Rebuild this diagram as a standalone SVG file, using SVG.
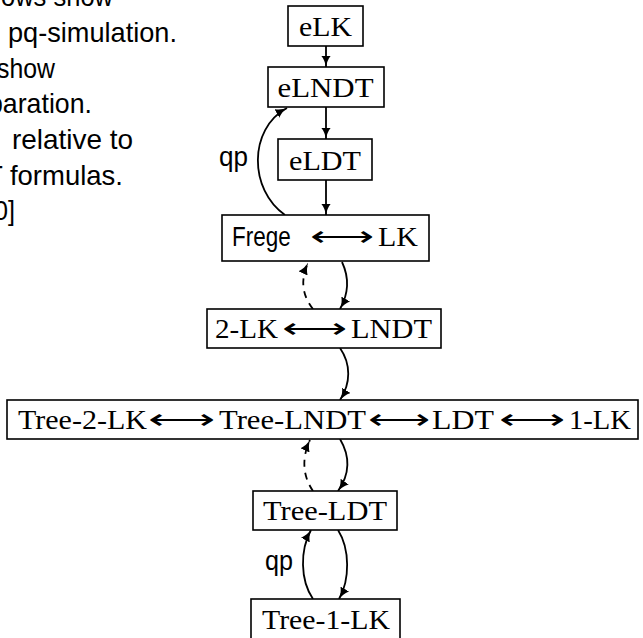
<svg xmlns="http://www.w3.org/2000/svg" width="643" height="638" viewBox="0 0 643 638">
<style>
.box{fill:#fff;stroke:#000;stroke-width:1.6}
.rm{font-family:"Liberation Serif","Times New Roman",serif;font-size:28px;fill:#000}
.ss{font-family:"Liberation Sans",Arial,sans-serif;font-size:28px;fill:#000}
.ar{font-family:"DejaVu Sans",sans-serif;font-weight:200;font-size:28px;fill:#000}
.c{fill:none;stroke:#000;stroke-width:1.8}
.d{stroke-dasharray:7 6}
</style>
<defs>
<marker id="ah" viewBox="0 0 12 10" markerWidth="12" markerHeight="10" refX="11.5" refY="5" orient="auto" markerUnits="userSpaceOnUse">
<path d="M0,0 C3,2.5 7,4.4 12,5 C7,5.6 3,7.5 0,10 Z" fill="#000"/>
</marker>
</defs>
<rect width="643" height="638" fill="#fff"/>
<g id="caption" class="ss">
<text x="1" y="6" textLength="112" lengthAdjust="spacingAndGlyphs">ows show</text>
<text x="8" y="42" textLength="169" lengthAdjust="spacingAndGlyphs">pq-simulation.</text>
<text x="-3" y="77.5" textLength="58" lengthAdjust="spacingAndGlyphs">show</text>
<text x="-12" y="113" textLength="104" lengthAdjust="spacingAndGlyphs">paration.</text>
<text x="12" y="149" textLength="121" lengthAdjust="spacingAndGlyphs">relative to</text>
<text x="-14" y="184.5" textLength="137" lengthAdjust="spacingAndGlyphs">T formulas.</text>
<text x="-6" y="220" textLength="21" lengthAdjust="spacingAndGlyphs">0]</text>
</g>
<g id="connectors">
<path class="c" d="M326,46 L326,67" marker-end="url(#ah)"/>
<path class="c" d="M326,107 L326,139" marker-end="url(#ah)"/>
<path class="c" d="M326,180 L326,215" marker-end="url(#ah)"/>
<path class="c" d="M285,215 C249,190 248,129 287,108" marker-end="url(#ah)"/>
<path class="c" d="M342,262 C349,277 349,293 340,309" marker-end="url(#ah)"/>
<path class="c d" d="M313,309 C301,294 301,278 308,263" marker-end="url(#ah)"/>
<path class="c" d="M340,348 C351,364 351,383 340,400" marker-end="url(#ah)"/>
<path class="c" d="M340,439 C350,456 350,474 338,491" marker-end="url(#ah)"/>
<path class="c d" d="M313,491 C302,475 302,457 310,440" marker-end="url(#ah)"/>
<path class="c" d="M338,530 C350,549 350,580 339,599" marker-end="url(#ah)"/>
<path class="c" d="M313,599 C300,580 300,550 311,530" marker-end="url(#ah)"/>
<text class="ss" x="219" y="166" textLength="29" lengthAdjust="spacingAndGlyphs">qp</text>
<text class="ss" x="265" y="570" textLength="28" lengthAdjust="spacingAndGlyphs">qp</text>
</g>
<g id="eLK">
<rect class="box" x="288" y="6" width="75" height="40"/>
<text class="rm" x="299" y="36" textLength="53" lengthAdjust="spacingAndGlyphs">eLK</text>
</g>
<g id="eLNDT">
<rect class="box" x="268" y="67" width="116" height="40"/>
<text class="rm" x="277.5" y="97" textLength="96" lengthAdjust="spacingAndGlyphs">eLNDT</text>
</g>
<g id="eLDT">
<rect class="box" x="278" y="139" width="94" height="41"/>
<text class="rm" x="289" y="170" textLength="72" lengthAdjust="spacingAndGlyphs">eLDT</text>
</g>
<g id="Frege-LK">
<rect class="box" x="222" y="215" width="207" height="46"/>
<text y="246"><tspan class="ss" x="232" textLength="65" lengthAdjust="spacingAndGlyphs">Frege </tspan><tspan class="ar" x="310" textLength="64" lengthAdjust="spacingAndGlyphs">⟷</tspan><tspan class="rm" x="378" textLength="40" lengthAdjust="spacingAndGlyphs">LK</tspan></text>
</g>
<g id="2LK-LNDT">
<rect class="box" x="207" y="309" width="234" height="39"/>
<text y="338"><tspan class="rm" x="215" textLength="63" lengthAdjust="spacingAndGlyphs">2-LK</tspan><tspan class="ar" x="282" textLength="65" lengthAdjust="spacingAndGlyphs">⟷</tspan><tspan class="rm" x="351" textLength="81" lengthAdjust="spacingAndGlyphs">LNDT</tspan></text>
</g>
<g id="Tree-row">
<rect class="box" x="7" y="400" width="631" height="39"/>
<text y="429"><tspan class="rm" x="18" textLength="129" lengthAdjust="spacingAndGlyphs">Tree-2-LK</tspan><tspan class="ar" x="148" textLength="67" lengthAdjust="spacingAndGlyphs">⟷</tspan><tspan class="rm" x="219" textLength="147" lengthAdjust="spacingAndGlyphs">Tree-LNDT</tspan><tspan class="ar" x="368" textLength="62" lengthAdjust="spacingAndGlyphs">⟷</tspan><tspan class="rm" x="432" textLength="62" lengthAdjust="spacingAndGlyphs">LDT</tspan><tspan class="ar" x="499" textLength="66" lengthAdjust="spacingAndGlyphs">⟷</tspan><tspan class="rm" x="569" textLength="62" lengthAdjust="spacingAndGlyphs">1-LK</tspan></text>
</g>
<g id="Tree-LDT">
<rect class="box" x="253" y="491" width="144" height="39"/>
<text class="rm" x="263" y="520" textLength="124" lengthAdjust="spacingAndGlyphs">Tree-LDT</text>
</g>
<g id="Tree-1-LK">
<rect class="box" x="251" y="599" width="149" height="40"/>
<text class="rm" x="262" y="629" textLength="128" lengthAdjust="spacingAndGlyphs">Tree-1-LK</text>
</g>
</svg>
